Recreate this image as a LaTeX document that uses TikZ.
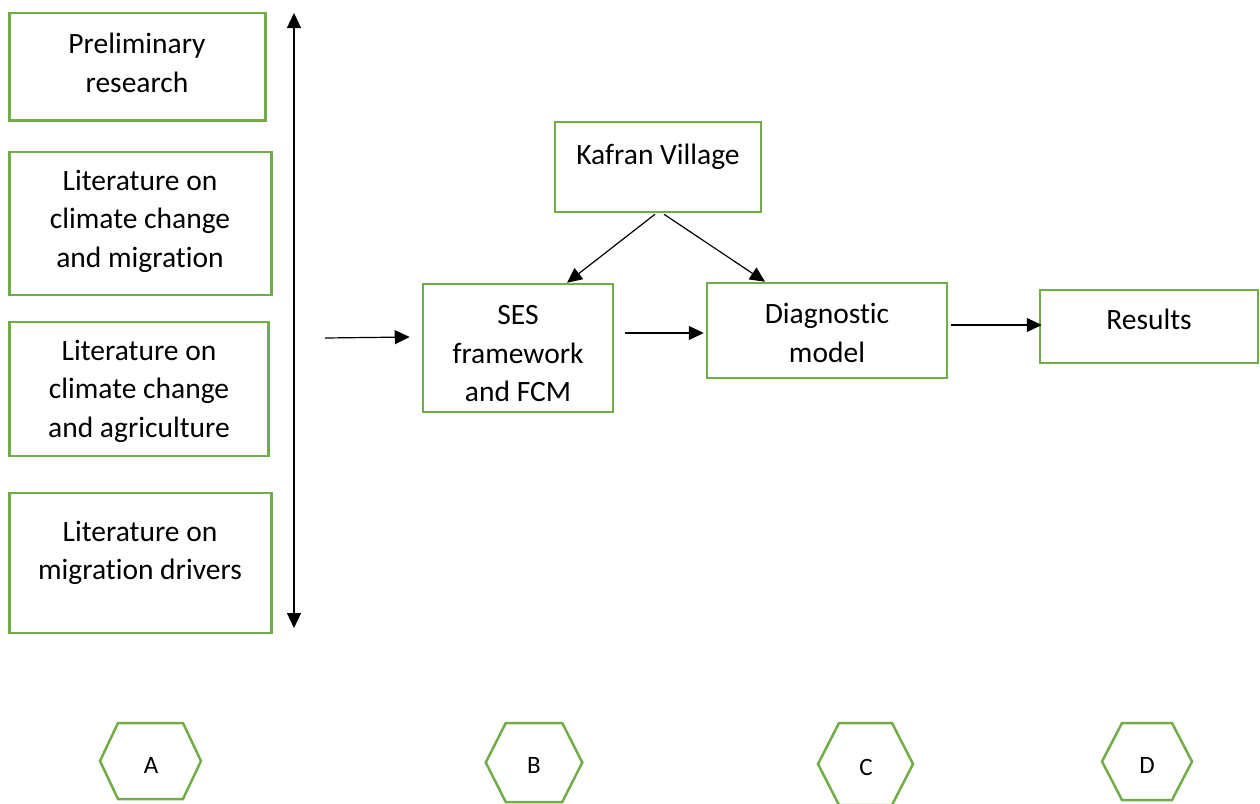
\documentclass[tikz,border=0pt]{standalone}
\usepackage{fontspec}
\setmainfont{Carlito}[Ligatures=NoCommon]
\usetikzlibrary{arrows.meta,calc}
\definecolor{boxgreen}{RGB}{112,173,71}
\tikzset{
  box/.style={draw=boxgreen, line width=2.5pt, rectangle, inner sep=0pt},
  txt/.style={align=center, font=\fontsize{29.5}{38.5}\selectfont, inner sep=0pt},
  hexlbl/.style={font=\fontsize{25}{30}\selectfont, inner sep=0pt},
  hexedge/.style={draw=boxgreen, line width=2.5pt, line join=miter},
  conn/.style={draw=black, line width=1.2pt, -{Triangle[length=15pt,width=14pt]}},
  dconn/.style={draw=black, line width=1.2pt, {Triangle[length=15pt,width=14pt]}-{Triangle[length=15pt,width=14pt]}}
}
% hexagon: centre x, centre y, width, height, indent
\newcommand{\hexshape}[5]{%
  \draw[hexedge] ({#1-#3/2+#5},{#2-#4/2}) -- ({#1+#3/2-#5},{#2-#4/2}) -- ({#1+#3/2},{#2})
    -- ({#1+#3/2-#5},{#2+#4/2}) -- ({#1-#3/2+#5},{#2+#4/2}) -- ({#1-#3/2},{#2}) -- cycle;}
\begin{document}
\begin{tikzpicture}[x=1pt,y=-1pt]
\useasboundingbox (0,0) rectangle (1260,803);
% left column boxes
\node[box, minimum width=256pt, minimum height=107.5pt] (b1) at (137.5,66.75) {};
\node[txt] (b1t) at (137,63) {Preliminary\\research};
\node[box, minimum width=262pt, minimum height=143pt] (b2) at (140.5,223.5) {};
\node[txt] (b2t) at (140,221) {Literature on\\climate change\\and migration};
\node[box, minimum width=259pt, minimum height=134pt] (b3) at (139,389) {};
\node[txt] (b3t) at (139,391) {Literature on\\climate change\\and agriculture};
\node[box, minimum width=262pt, minimum height=140pt] (b4) at (140.5,563) {};
\node[txt] (b4t) at (140,553) {Literature on\\migration drivers};
% vertical double arrow
\coordinate (vtop) at (294,13);
\coordinate (vbot) at (294,628);
\draw[dconn] (vtop) -- (vbot);
% middle boxes
\node[box, minimum width=206pt, minimum height=90pt] (kaf) at (658,167) {};
\node[txt] (kaft) at (658,157) {Kafran Village};
\node[box, minimum width=190pt, minimum height=128pt] (ses) at (518,348) {};
\node[txt] (sest) at (518,354) {SES\\framework\\and FCM};
\node[box, minimum width=240pt, minimum height=95pt] (diag) at (827,330.5) {};
\node[txt] (diagt) at (827,333) {Diagnostic\\model};
\node[box, minimum width=218pt, minimum height=73pt] (res) at (1149,326.5) {};
\node[txt] (rest) at (1149,319) {Results};
% connectors
\coordinate (inA) at (325,338);
\draw[conn] (inA) -- ([xshift=-12pt,yshift=11pt]ses.west);
\draw[conn] ([xshift=11pt,yshift=15pt]ses.east) -- ([xshift=-2pt,yshift=-2.5pt]diag.west);
\draw[conn] ([xshift=3pt,yshift=5.5pt]diag.east) -- ([xshift=3pt,yshift=1.5pt]res.west);
\draw[conn] ([xshift=-3pt,yshift=-1pt]kaf.south) -- ([xshift=49pt]ses.north);
\draw[conn] ([xshift=6pt,yshift=-1pt]kaf.south) -- ([xshift=-62pt]diag.north);
% hexagons
\hexshape{150.5}{761}{101}{76}{18}
\node[hexlbl] (hA) at (151,765) {A};
\hexshape{534}{762.5}{96.5}{79}{20}
\node[hexlbl] (hB) at (534,765) {B};
\hexshape{865.5}{764}{95}{82}{21}
\node[hexlbl] (hC) at (866,767) {C};
\hexshape{1147}{761.5}{90}{77}{20}
\node[hexlbl] (hD) at (1147,765) {D};
\end{tikzpicture}
\end{document}
